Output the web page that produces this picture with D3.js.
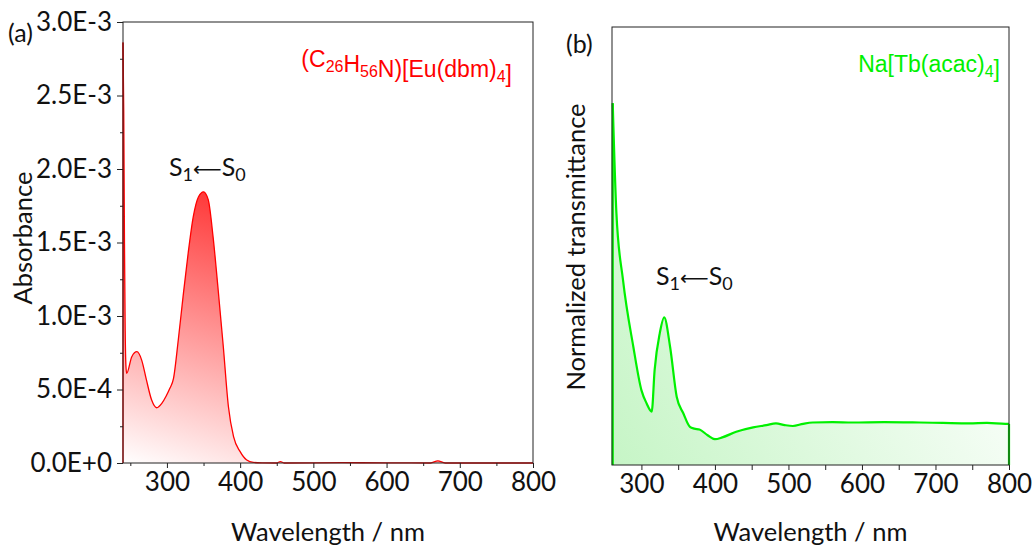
<!DOCTYPE html>
<html>
<head>
<meta charset="utf-8">
<script src="https://cdn.jsdelivr.net/npm/d3@7"></script>
<style>
    body { margin: 0; background: #fff; }
    svg text { font-family: Lato, "Open Sans", sans-serif; fill: #111; }
    .tick text { font-size: 26px; }
    .axis path, .axis line { stroke: #222; }
</style>
</head>
<body>
<div id="chart"></div>
<script>

// panel (a): absorbance of the Eu complex
let euWl  = [240, 241, 242, 243, 244, 245, 252, 259, 265.5, 272, 279, 286, 293, 299, 304, 309, 315.5, 322, 329, 336, 343, 350, 356.5, 363, 370, 377, 384, 391, 400, 409, 418, 430, 450, 455, 460, 540, 660, 670, 680, 800];
let euAbs = [2.86, 2.4, 1.5, 0.9, 0.66, 0.61, 0.723, 0.757, 0.70, 0.565, 0.43, 0.376, 0.406, 0.456, 0.508, 0.576, 0.837, 1.13, 1.427, 1.676, 1.81, 1.845, 1.79, 1.54, 1.177, 0.791, 0.383, 0.179, 0.077, 0.02, 0.004, 0.001, 0.0, 0.01, 0.0, 0.002, 0.0, 0.015, 0.0, 0.0].map(v => v * 1e-3);

// panel (b): normalized transmittance of the Tb complex
let tbWl = [261, 266, 275, 289, 300, 307, 314, 318, 325, 331, 339, 348, 357, 366, 372, 379, 390, 400, 410, 429, 452, 470, 483, 495, 506, 520, 533, 560, 587, 630, 678, 710, 746, 770, 795, 800];
let tbT  = [0.826, 0.575, 0.422, 0.27, 0.171, 0.141, 0.122, 0.217, 0.301, 0.337, 0.27, 0.156, 0.118, 0.087, 0.083, 0.081, 0.068, 0.059, 0.063, 0.076, 0.086, 0.091, 0.095, 0.091, 0.089, 0.094, 0.097, 0.098, 0.097, 0.098, 0.097, 0.096, 0.095, 0.096, 0.094, 0.094];

let xTicks      = [300, 400, 500, 600, 700, 800];
let xMinorTicks = [250, 350, 450, 550, 650, 750];
let yTicksA      = [0, 0.5e-3, 1.0e-3, 1.5e-3, 2.0e-3, 2.5e-3, 3.0e-3];
let yMinorTicksA = [0.25e-3, 0.75e-3, 1.25e-3, 1.75e-3, 2.25e-3, 2.75e-3];

let svg = d3.select("#chart").append("svg")
    .attr("width", 1033)
    .attr("height", 550);

let defs = svg.append("defs");

let redGrad = defs.append("linearGradient")
    .attr("id", "redFill")
    .attr("gradientUnits", "userSpaceOnUse")
    .attr("x1", 123).attr("y1", 463)
    .attr("x2", 212).attr("y2", 190);
redGrad.append("stop").attr("offset", "0").attr("stop-color", "#ffffff");
redGrad.append("stop").attr("offset", "1").attr("stop-color", "#ff3636");

let greenGrad = defs.append("linearGradient")
    .attr("id", "greenFill")
    .attr("gradientUnits", "userSpaceOnUse")
    .attr("x1", 612).attr("y1", 465)
    .attr("x2", 1000).attr("y2", 250);
greenGrad.append("stop").attr("offset", "0").attr("stop-color", "#c6f5c6");
greenGrad.append("stop").attr("offset", "1").attr("stop-color", "#ffffff");

function drawPanel(opt) {
    let g = svg.append("g");

    let x = d3.scaleLinear().domain(opt.xDomain).range([opt.left, opt.right]);
    let y = d3.scaleLinear().domain(opt.yDomain).range([opt.bottom, opt.top]);

    let pts = opt.xs.map((d, i) => [d, opt.ys[i]]);

    let area = d3.area()
        .x(d => x(d[0]))
        .y0(y(opt.yDomain[0]))
        .y1(d => y(d[1]))
        .curve(d3.curveMonotoneX);

    let line = d3.line()
        .x(d => x(d[0]))
        .y(d => y(d[1]))
        .curve(d3.curveMonotoneX);

    g.append("path")
        .attr("d", area(pts))
        .attr("fill", opt.fill);

    g.append("path")
        .attr("d", line(pts))
        .attr("fill", "none")
        .attr("stroke", opt.color)
        .attr("stroke-width", opt.lineWidth);

    // drop lines at both ends of the curve
    [pts[0], pts[pts.length - 1]].forEach(p => {
        g.append("line")
            .attr("x1", x(p[0])).attr("x2", x(p[0]))
            .attr("y1", y(p[1])).attr("y2", y(opt.yDomain[0]))
            .attr("stroke", opt.color)
            .attr("stroke-width", opt.lineWidth);
    });

    // frame
    g.append("rect")
        .attr("x", opt.left)
        .attr("y", opt.top)
        .attr("width", opt.right - opt.left)
        .attr("height", opt.bottom - opt.top)
        .attr("fill", "none")
        .attr("stroke", "#222");

    // x axis
    g.append("g")
        .attr("class", "axis")
        .attr("transform", "translate(0," + opt.bottom + ")")
        .call(d3.axisBottom(x).tickValues(xTicks).tickSize(5).tickSizeOuter(0).tickPadding(5))
        .call(a => a.select(".domain").remove());

    g.append("g")
        .attr("class", "axis")
        .attr("transform", "translate(0," + opt.bottom + ")")
        .call(d3.axisBottom(x).tickValues(xMinorTicks.filter(v => v > opt.xDomain[0])).tickSize(opt.minorX).tickFormat(""))
        .call(a => a.select(".domain").remove());

    // y axis
    if (opt.yTicks) {
        g.append("g")
            .attr("class", "axis")
            .attr("transform", "translate(" + opt.left + ",0)")
            .call(d3.axisLeft(y).tickValues(opt.yTicks).tickSize(6).tickPadding(5)
                .tickFormat(d => d3.format(".1e")(d).toUpperCase()))
            .call(a => a.select(".domain").remove());

        g.append("g")
            .attr("class", "axis")
            .attr("transform", "translate(" + opt.left + ",0)")
            .call(d3.axisLeft(y).tickValues(opt.yMinorTicks).tickSize(3).tickFormat(""))
            .call(a => a.select(".domain").remove());
    }

    g.append("text")
        .attr("x", (opt.left + opt.right) / 2 + opt.xTitleShift)
        .attr("y", 541)
        .attr("text-anchor", "middle")
        .style("font-size", "25.5px")
        .text("Wavelength / nm");

    g.append("text")
        .attr("transform", "translate(" + opt.yTitleX + "," + opt.yTitleY + ") rotate(-90)")
        .attr("text-anchor", "middle")
        .style("font-size", "25.5px")
        .text(opt.yTitle);

    g.append("text")
        .attr("x", opt.tagX)
        .attr("y", opt.tagY)
        .style("font-size", "25px")
        .text(opt.tag);

    // S1 <- S0 annotation
    let s = g.append("text")
        .attr("x", opt.sX)
        .attr("y", opt.sY)
        .style("font-size", "25px");
    s.append("tspan").text("S");
    s.append("tspan").attr("dy", 5).style("font-size", "18px").text("1");
    s.append("tspan").attr("dy", -5).attr("font-family", "DejaVu Sans").style("font-size", "20px").text("\u27F5");
    s.append("tspan").text("S");
    s.append("tspan").attr("dy", 5).style("font-size", "18px").text("0");

    // compound name
    let c = g.append("text")
        .attr("x", opt.nameX)
        .attr("y", opt.nameY)
        .attr("text-anchor", "end")
        .style("font-family", "'Liberation Sans', Arial, sans-serif")
        .style("font-size", "23px")
        .style("fill", opt.color);
    opt.name.forEach(part => {
        if (part.sub) {
            c.append("tspan").attr("dy", 5).style("font-size", "16px").text(part.t);
            c.append("tspan").attr("dy", -5).text("");
        } else {
            c.append("tspan").text(part.t);
        }
    });

    return g;
}

drawPanel({
    left: 123, right: 533, top: 22, bottom: 463,
    xDomain: [240, 800], yDomain: [0, 3.0e-3],
    xs: euWl, ys: euAbs,
    color: "#ff0000", lineWidth: 1.3, fill: "url(#redFill)",
    yTicks: yTicksA, yMinorTicks: yMinorTicksA,
    minorX: 3, xTitleShift: 0,
    yTitle: "Absorbance", yTitleX: 32, yTitleY: 238,
    tag: "(a)", tagX: 8, tagY: 42,
    sX: 169, sY: 176,
    name: [{ t: "(C" }, { t: "26", sub: true }, { t: "H" }, { t: "56", sub: true }, { t: "N)[Eu(dbm)" }, { t: "4", sub: true }, { t: "]" }],
    nameX: 512, nameY: 67
});

drawPanel({
    left: 612, right: 1009, top: 27, bottom: 465,
    xDomain: [260, 800], yDomain: [0, 1],
    xs: tbWl, ys: tbT,
    color: "#00f000", lineWidth: 2.2, fill: "url(#greenFill)",
    yTicks: null,
    minorX: 5, xTitleShift: 0,
    yTitle: "Normalized transmittance", yTitleX: 585, yTitleY: 247,
    tag: "(b)", tagX: 566, tagY: 53,
    sX: 656, sY: 285,
    name: [{ t: "Na[Tb(acac)" }, { t: "4", sub: true }, { t: "]" }],
    nameX: 1000, nameY: 72
});

</script>
</body>
</html>
